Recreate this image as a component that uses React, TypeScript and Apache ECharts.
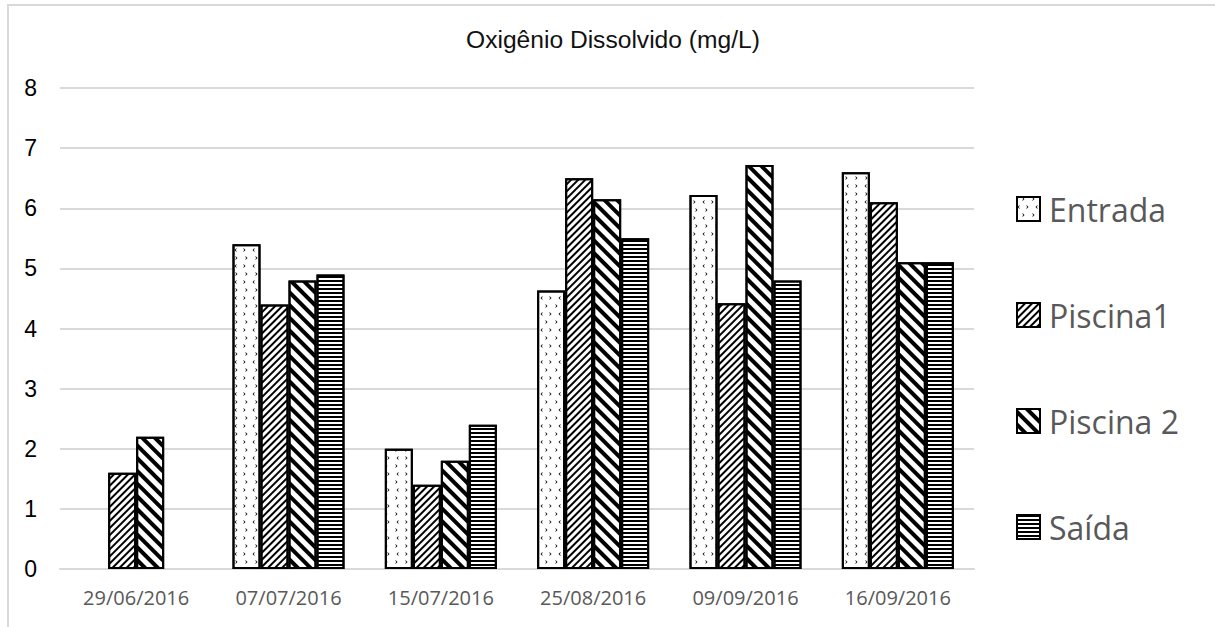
import React, { useEffect, useRef } from "react";
import * as echarts from "echarts";

const categories = ["29/06/2016", "07/07/2016", "15/07/2016", "25/08/2016", "09/09/2016", "16/09/2016"];
const entrada: (number | null)[] = [null, 5.4, 2.0, 4.63, 6.22, 6.6];
const piscina1: (number | null)[] = [1.6, 4.4, 1.4, 6.5, 4.42, 6.1];
const piscina2: (number | null)[] = [2.2, 4.8, 1.8, 6.15, 6.72, 5.1];
const saida: (number | null)[] = [null, 4.9, 2.4, 5.5, 4.8, 5.1];
const seriesNames = ["Entrada", "Piscina1", "Piscina 2", "Saída"];
const yTicks = { min: 0, max: 8, interval: 1 };

const decals: any[] = [
  {
    symbol: [
      "path://M4,0L0,4L4,8L4,5.8L2.2,4L4,2.2Z",
      "path://M0,0L4,4L0,8L0,5.8L1.8,4L0,2.2Z",
    ],
    symbolSize: 1,
    color: "#000",
    backgroundColor: "rgba(0,0,0,0)",
    dashArrayX: [[3, 6], [0, 4.5, 3, 1.5]],
    dashArrayY: [4, 3.5],
    rotation: 0,
  },
  {
    symbol: "rect",
    symbolSize: 1,
    color: "#000",
    backgroundColor: "rgba(0,0,0,0)",
    dashArrayX: [1, 0],
    dashArrayY: [2, 2.2],
    rotation: -Math.PI / 4,
  },
  {
    symbol: "rect",
    symbolSize: 1,
    color: "#000",
    backgroundColor: "rgba(0,0,0,0)",
    dashArrayX: [1, 0],
    dashArrayY: [3.5, 5],
    rotation: Math.PI / 4,
  },
  {
    symbol: "rect",
    symbolSize: 1,
    color: "#000",
    backgroundColor: "rgba(0,0,0,0)",
    dashArrayX: [1, 0],
    dashArrayY: [1.8, 1.6],
    rotation: 0,
  },
];

const dataSets = [entrada, piscina1, piscina2, saida];

export default function App() {
  const ref = useRef<HTMLDivElement>(null);
  useEffect(() => {
    if (!ref.current) return;
    const chart = echarts.init(ref.current, undefined, { renderer: "svg" });
    chart.setOption({
      animation: false,
      backgroundColor: "#ffffff",
      title: {
        text: "Oxigênio Dissolvido (mg/L)",
        left: 466,
        top: 27,
        padding: 0,
        textStyle: {
          fontFamily: "Liberation Sans, Arial, sans-serif",
          fontSize: 24.6,
          fontWeight: "normal",
          color: "#111",
        },
      },
      graphic: [
        {
          type: "rect",
          shape: { x: 8, y: 5, width: 1400, height: 800 },
          style: { fill: "none", stroke: "#d9d9d9", lineWidth: 2 },
          silent: true,
          z: -10,
        },
      ],
      legend: {
        orient: "vertical",
        left: 1016,
        top: 191,
        itemWidth: 23,
        itemHeight: 24,
        itemGap: 70,
        padding: 0,
        icon: "rect",
        data: seriesNames,
        textStyle: {
          fontFamily: "Open Sans, Noto Sans, sans-serif",
          fontSize: 32,
          lineHeight: 36,
          color: "#595959",
          padding: [0, 0, 0, 4],
        },
        itemStyle: { borderColor: "#000", borderWidth: 2 },
      },
      grid: { left: 60, right: 241, top: 88, bottom: 58, containLabel: false },
      xAxis: {
        type: "category",
        data: categories,
        axisLine: { show: true, lineStyle: { color: "#d9d9d9", width: 2 } },
        axisTick: { show: false },
        axisLabel: {
          fontFamily: "Open Sans, Noto Sans, sans-serif",
          fontSize: 20,
          color: "#595959",
          margin: 18,
        },
      },
      yAxis: {
        type: "value",
        min: yTicks.min,
        max: yTicks.max,
        interval: yTicks.interval,
        axisLine: { show: false },
        axisTick: { show: false },
        splitLine: { lineStyle: { color: "#d9d9d9", width: 2 } },
        axisLabel: {
          fontFamily: "Liberation Sans, Arial, sans-serif",
          fontSize: 23,
          color: "#000",
          margin: 23,
        },
      },
      series: seriesNames.map((name, i) => ({
        name,
        type: "bar",
        data: dataSets[i],
        barWidth: 28,
        barGap: "0%",
        itemStyle: {
          color: "#ffffff",
          borderColor: "#000",
          borderWidth: 2,
          decal: decals[i],
        },
      })),
    });
    return () => chart.dispose();
  }, []);
  return (
    <div
      ref={ref}
      style={{ position: "absolute", left: 0, top: 0, width: 1215, height: 627 }}
    />
  );
}
